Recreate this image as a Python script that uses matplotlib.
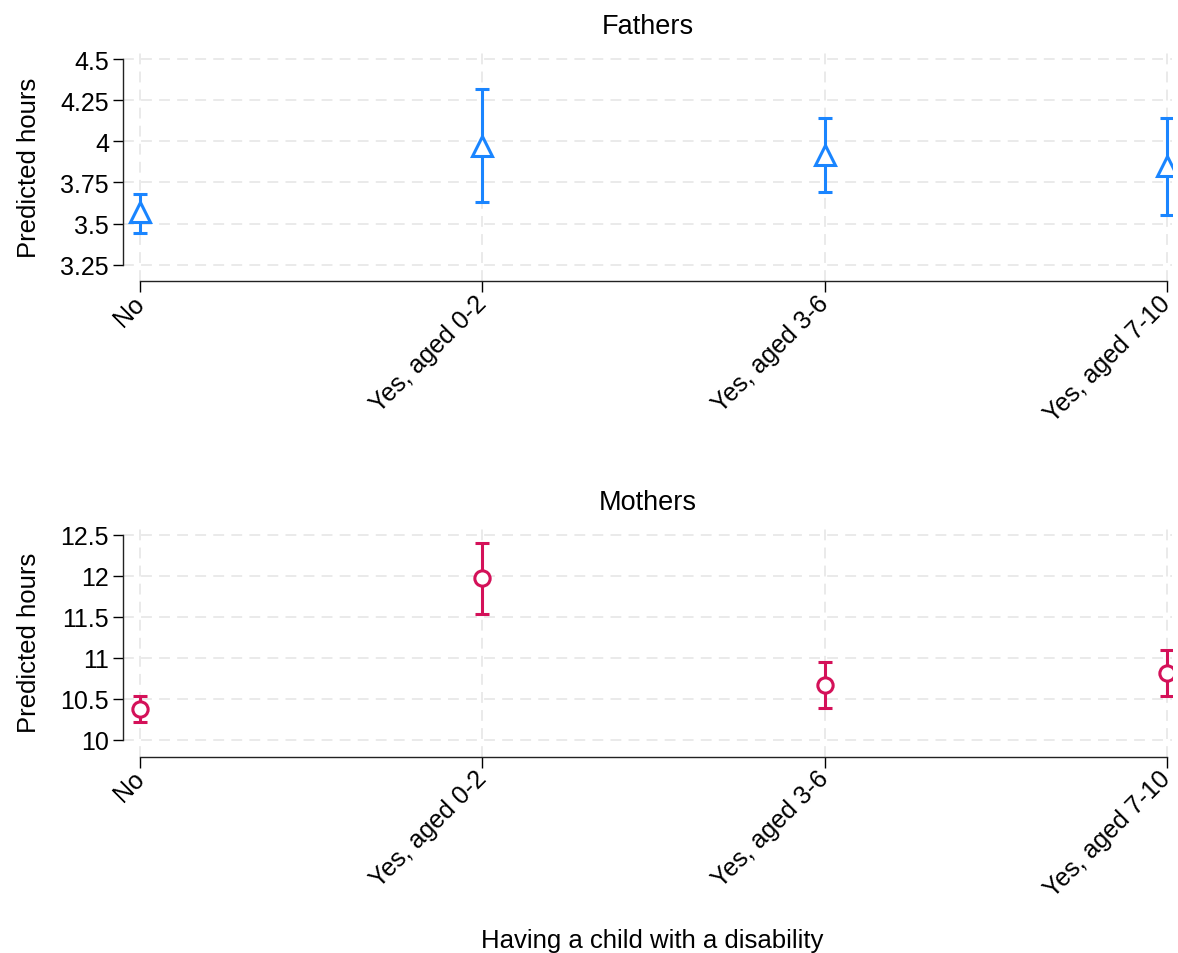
import matplotlib
matplotlib.use("Agg")
import matplotlib.pyplot as plt

plt.rcParams["font.family"] = ["Liberation Sans", "DejaVu Sans"]

categories = ["No", "Yes, aged 0-2", "Yes, aged 3-6", "Yes, aged 7-10"]

fathers_est = [3.57, 3.97, 3.92, 3.85]
fathers_lo = [3.44, 3.63, 3.69, 3.55]
fathers_hi = [3.68, 4.32, 4.14, 4.14]
fathers_ticks = [3.25, 3.5, 3.75, 4.0, 4.25, 4.5]
fathers_ticklabels = ["3.25", "3.5", "3.75", "4", "4.25", "4.5"]

mothers_est = [10.38, 11.97, 10.67, 10.82]
mothers_lo = [10.22, 11.53, 10.39, 10.53]
mothers_hi = [10.54, 12.40, 10.95, 11.10]
mothers_ticks = [10, 10.5, 11, 11.5, 12, 12.5]
mothers_ticklabels = ["10", "10.5", "11", "11.5", "12", "12.5"]

BLUE = "#1a85ff"
PINK = "#d41159"
GRID = "#e8e8e8"
TICK_FS = 18
LABEL_FS = 18.5
TITLE_FS = 19.5

fig = plt.figure(figsize=(11.78, 9.54), dpi=100)
ax1 = fig.add_axes([0.1044, 0.7044, 0.8906, 0.2400])
ax2 = fig.add_axes([0.1044, 0.2058, 0.8906, 0.2397])


def panel(ax, est, lo, hi, ticks, ticklabels, ylim, color, marker, ms, title):
    x = list(range(len(categories)))
    yerr = [[e - l for e, l in zip(est, lo)], [h - e for e, h in zip(est, hi)]]
    ax.errorbar(x, est, yerr=yerr, fmt="none", ecolor=color, elinewidth=2.2,
                capsize=5, capthick=2.2, zorder=3)
    ax.plot(x, est, ls="none", marker=marker, ms=ms, mfc="white", mec=color,
            mew=2.2, zorder=4)
    ax.set_xlim(-0.05, 3.015)
    ax.set_ylim(*ylim)
    ax.set_yticks(ticks)
    ax.set_yticklabels(ticklabels, fontsize=TICK_FS)
    ax.set_xticks(x)
    ax.set_xticklabels(categories, fontsize=TICK_FS, rotation=45, ha="right",
                       va="center", rotation_mode="anchor")
    ax.tick_params(axis="x", length=8, width=1, pad=5)
    ax.tick_params(axis="y", length=7, width=1, pad=3)
    ax.grid(True, color=GRID, lw=1.3, ls=(0, (6, 4)), zorder=0)
    for s in ("top", "right"):
        ax.spines[s].set_visible(False)
    ax.spines["left"].set_bounds(ticks[0], ticks[-1])
    ax.spines["bottom"].set_bounds(0, 3)
    for s in ("left", "bottom"):
        ax.spines[s].set_linewidth(1.0)
        ax.spines[s].set_color("#222222")
    ax.set_ylabel("Predicted hours", fontsize=LABEL_FS, labelpad=14)
    ax.set_title(title, fontsize=TITLE_FS, pad=14)


panel(ax1, fathers_est, fathers_lo, fathers_hi, fathers_ticks, fathers_ticklabels,
      (3.151, 4.543), BLUE, "^", 14, "Fathers")
panel(ax2, mothers_est, mothers_lo, mothers_hi, mothers_ticks, mothers_ticklabels,
      (9.797, 12.58), PINK, "o", 11, "Mothers")

fig.text(0.554, 0.0015, "Having a child with a disability", ha="center",
         va="bottom", fontsize=LABEL_FS)

fig.savefig("out.png", dpi=100)
